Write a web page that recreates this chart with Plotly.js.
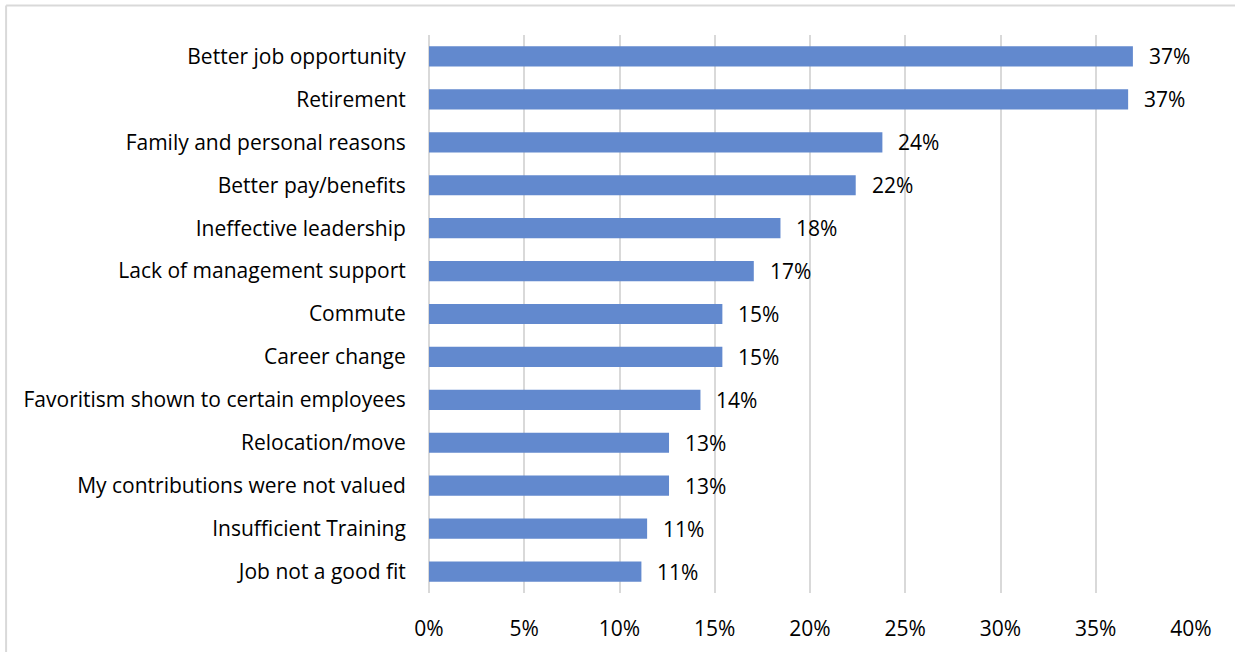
<!DOCTYPE html>
<html>
<head>
<meta charset="utf-8">
<script src="https://cdn.plot.ly/plotly-3.0.1.min.js"></script>
<style>
  html, body { margin: 0; padding: 0; background: #fff; }
  #chart { width: 1235px; height: 652px; }
</style>
</head>
<body>
<div id="chart"></div>
<script>
var categories = [
  "Better job opportunity",
  "Retirement",
  "Family and personal reasons",
  "Better pay/benefits",
  "Ineffective leadership",
  "Lack of management support",
  "Commute",
  "Career change",
  "Favoritism shown to certain employees",
  "Relocation/move",
  "My contributions were not valued",
  "Insufficient Training",
  "Job not a good fit"
];
var values = [36.95, 36.7, 23.8, 22.4, 18.45, 17.05, 15.4, 15.4, 14.25, 12.6, 12.6, 11.45, 11.15];
var valueLabels = ["37%", "37%", "24%", "22%", "18%", "17%", "15%", "15%", "14%", "13%", "13%", "11%", "11%"];
var xTicks = [0, 5, 10, 15, 20, 25, 30, 35, 40];
var xTickLabels = ["0%", "5%", "10%", "15%", "20%", "25%", "30%", "35%", "40%"];

var FONT = "'Open Sans', sans-serif";
var FS = 21;

var trace = {
  type: "bar",
  orientation: "h",
  x: values,
  y: categories,
  marker: { color: "#6289ce", line: { width: 0 } },
  width: 0.47,
  hoverinfo: "x+y"
};

var annotations = values.map(function (v, i) {
  return {
    x: v, y: categories[i], xref: "x", yref: "y",
    text: valueLabels[i], showarrow: false,
    xanchor: "left", yanchor: "middle", xshift: 14, yshift: 0,
    font: { family: FONT, size: FS, color: "#000" }
  };
});

var layout = {
  width: 1235, height: 652,
  paper_bgcolor: "#fff", plot_bgcolor: "#fff",
  margin: { l: 429, r: 44, t: 35, b: 59, pad: 0 },
  font: { family: FONT, size: FS, color: "#000" },
  showlegend: false,
  xaxis: {
    range: [0, 40],
    tickvals: xTicks,
    ticktext: xTickLabels,
    showgrid: true, gridcolor: "#d9d9d9", gridwidth: 2,
    zeroline: true, zerolinecolor: "#d9d9d9", zerolinewidth: 2,
    showline: false,
    ticks: "outside", ticklen: 17, tickcolor: "rgba(0,0,0,0)",
    tickfont: { family: FONT, size: FS, color: "#000" },
    fixedrange: true
  },
  yaxis: {
    type: "category",
    autorange: "reversed",
    showgrid: false, zeroline: false, showline: false,
    ticks: "outside", ticklen: 18, tickcolor: "rgba(0,0,0,0)",
    tickfont: { family: FONT, size: FS, color: "#000" },
    fixedrange: true
  },
  annotations: annotations,
  shapes: [
    { type: "line", xref: "paper", yref: "paper", x0: -0.555, x1: 1.2, y0: 1.053, y1: 1.053,
      line: { color: "#d9d9d9", width: 2 } },
    { type: "line", xref: "paper", yref: "paper", x0: -0.555, x1: -0.555, y0: 1.053, y1: -0.2,
      line: { color: "#d9d9d9", width: 2 } }
  ]
};

Plotly.newPlot("chart", [trace], layout, { displayModeBar: false, staticPlot: true });
</script>
</body>
</html>
